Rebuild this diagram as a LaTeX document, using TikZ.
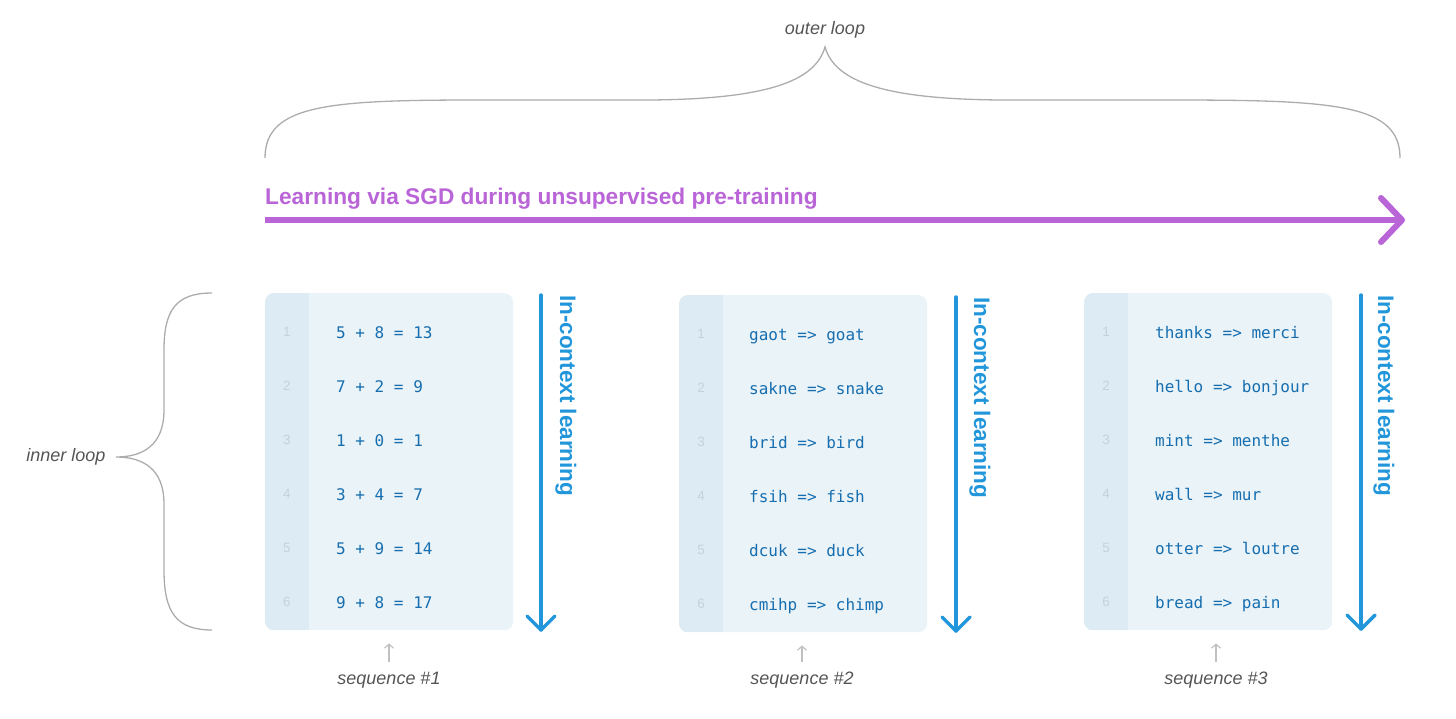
\documentclass[tikz,border=0pt]{standalone}
\usepackage{fontspec}
\setmainfont{Liberation Sans}
\newfontfamily\monof{DejaVu Sans Mono}
\usetikzlibrary{arrows.meta,calc}
\definecolor{braceg}{RGB}{172,172,172}
\definecolor{labelgray}{RGB}{85,85,85}
\definecolor{sgdpurple}{RGB}{185,100,215}
\definecolor{iclblue}{RGB}{34,150,219}
\definecolor{codeblue}{RGB}{22,110,176}
\definecolor{boxmain}{RGB}{234,243,247}
\definecolor{boxcol}{RGB}{221,236,244}
\definecolor{lnumgray}{RGB}{196,210,218}
\definecolor{seqgray}{RGB}{192,192,192}
\begin{document}
\begin{tikzpicture}[x=1pt,y=-1pt,
  bracepath/.style={draw=braceg, line width=1.3pt},
  looplabel/.style={font=\itshape\fontsize{18}{18}\selectfont, text=labelgray, inner sep=0},
  seqbox/.style={fill=boxmain, rounded corners=9pt, minimum width=248pt, minimum height=337pt, anchor=north west, inner sep=0},
  code/.style={font=\monof\fontsize{16}{16}\selectfont, text=codeblue, anchor=base west, inner sep=0},
  lnum/.style={font=\fontsize{13.5}{13.5}\selectfont, text=lnumgray, anchor=base, inner sep=0},
  icl/.style={font=\bfseries\fontsize{22.5}{22.5}\selectfont, text=iclblue, rotate=-90, anchor=base west, inner sep=0},
  iclline/.style={draw=iclblue, line width=3.5pt, line cap=round, line join=round},
  sgdline/.style={draw=sgdpurple, line width=6pt, line join=round},
  seqlabel/.style={font=\itshape\fontsize{18}{18}\selectfont, text=labelgray, inner sep=0, anchor=base, text height=13pt, text depth=4pt},
  seqarrow/.style={draw=seqgray, line width=1.2pt, -{Straight Barb[length=4pt,width=9pt]}}
]
\useasboundingbox (0,0) rectangle (1456,718);

% outer brace
\node[looplabel] (outer) at (825,30) {outer loop};
\coordinate (obl) at (265,158);
\coordinate (obt) at (825,47);
\coordinate (obr) at (1400,158);
\draw[bracepath] (obl) .. controls (265,104) and (330,100) .. (480,100) -- (650,100)
  .. controls (765,99) and (815,82) .. (obt)
  .. controls (835,82) and (885,99) .. (1000,100) -- (1170,100)
  .. controls (1335,100) and (1400,104) .. (obr);

% SGD arrow
\node[font=\bfseries\fontsize{22.7}{22.7}\selectfont, text=sgdpurple, anchor=base west, inner sep=0] (sgd) at (265,204) {Learning via SGD during unsupervised pre-training};
\coordinate (sgds) at (265,220);
\coordinate (sgde) at (1402,220);
\draw[sgdline] (sgds) -- ($(sgde)+(-3,0)$);
\draw[sgdline, line cap=round] ($(sgde)+(-21,-22)$) -- (sgde) -- ($(sgde)+(-21,22)$);

% inner brace
\node[looplabel] (inner) at (66,457) {inner loop};
\coordinate (ibt) at (212,293);
\coordinate (ibm) at (116,457);
\coordinate (ibb) at (212,630);
\draw[bracepath] (ibt) .. controls (176,293) and (164,310) .. (164,350) -- (164,410)
  .. controls (164,446) and (142,457) .. (ibm)
  .. controls (142,457) and (164,468) .. (164,504) -- (164,570)
  .. controls (164,612) and (176,630) .. (ibb);

% boxes
\node[seqbox] (box1) at (265,293) {};
\node[seqbox] (box2) at (679,295) {};
\node[seqbox] (box3) at (1084,293) {};
\foreach \b in {box1,box2,box3}{
  \begin{scope}
    \clip[rounded corners=9pt] (\b.north west) rectangle (\b.south east);
    \fill[boxcol] (\b.north west) rectangle ($(\b.south west)+(44,0)$);
  \end{scope}
}

% line numbers and code
\foreach \i in {1,...,6}{
  \node[lnum] (n1\i) at (287,{332+54*(\i-1)+4.8}) {\i};
  \node[lnum] (n2\i) at (701,{334+54*(\i-1)+4.8}) {\i};
  \node[lnum] (n3\i) at (1106,{332+54*(\i-1)+4.8}) {\i};
}
\foreach \t [count=\i] in {5 + 8 = 13, 7 + 2 = 9, 1 + 0 = 1, 3 + 4 = 7, 5 + 9 = 14, 9 + 8 = 17}{
  \node[code] (c1\i) at (336,{332+54*(\i-1)+6}) {\t};
}
\foreach \t [count=\i] in {gaot => goat, sakne => snake, brid => bird, fsih => fish, dcuk => duck, cmihp => chimp}{
  \node[code] (c2\i) at (749,{334+54*(\i-1)+6}) {\t};
}
\foreach \t [count=\i] in {thanks => merci, hello => bonjour, mint => menthe, wall => mur, otter => loutre, bread => pain}{
  \node[code] (c3\i) at (1155,{332+54*(\i-1)+6}) {\t};
}

% in-context learning arrows
\node[icl] (icl1) at (560,295) {In-context learning};
\node[icl] (icl2) at (974,297) {In-context learning};
\node[icl] (icl3) at (1378,295) {In-context learning};
\coordinate (a1s) at (541,295); \coordinate (a1e) at (541,630);
\coordinate (a2s) at (956,297); \coordinate (a2e) at (956,631);
\coordinate (a3s) at (1361,295); \coordinate (a3e) at (1361,629);
\foreach \a in {1,2,3}{
  \draw[iclline] (a\a s) -- (a\a e);
  \draw[iclline] ($(a\a e)+(-14,-14)$) -- (a\a e) -- ($(a\a e)+(14,-14)$);
}

% sequence labels
\node[seqlabel] (s1) at (389,684) {sequence \#1};
\node[seqlabel] (s2) at (802,684) {sequence \#2};
\node[seqlabel] (s3) at (1216,684) {sequence \#3};
\foreach \s/\b in {s1/box1,s2/box2,s3/box3}{
  \draw[seqarrow, shorten <=9pt, shorten >=13pt] (\s.north) -- (\s.north |- \b.south);
}
\end{tikzpicture}
\end{document}
